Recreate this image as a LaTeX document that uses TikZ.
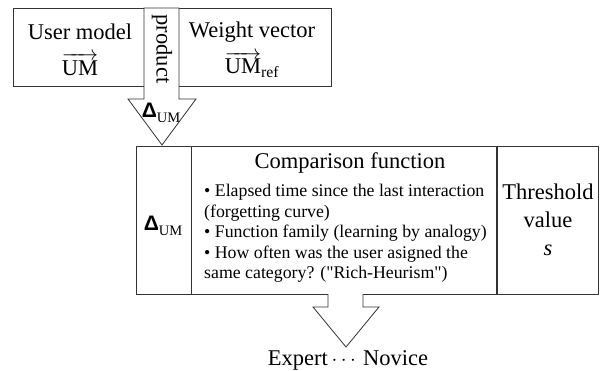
\documentclass[tikz,border=0pt]{standalone}
\usepackage{amsmath}
\usepackage{fontspec}
\setmainfont{Liberation Serif}
\newfontfamily\deltafont{Liberation Sans}

\newcommand{\dum}{{\deltafont\bfseries\fontsize{21}{22}\selectfont Δ}\raisebox{-5pt}{\fontsize{14.5}{16}\selectfont UM}}
\newcommand{\vecum}{$\overrightarrow{\text{UM}}$}

\tikzset{
  big/.style={font=\fontsize{22.5}{30}\selectfont, inner sep=0pt},
  small/.style={font=\fontsize{17.8}{20.5}\selectfont, inner sep=0pt},
  cell/.style={draw=black!80, line width=0.8pt, inner sep=0pt},
  blockarrow/.style={draw=black!80, line width=0.8pt, fill=white, line join=miter},
}

\begin{document}
\begin{tikzpicture}[x=1pt, y=-1pt]
  \useasboundingbox (0,0) rectangle (601,371);
  % input vectors
  \node[cell, minimum width=318pt, minimum height=78pt] (input) at (172,47) {};
  \node[big, align=center] (user) at (80,50) {User model\\[6pt] \vecum};
  \node[big, align=center] (weight) at (252,50) {Weight vector\\[6pt] \vecum$_{\text{ref}}$};
  % product arrow
  \filldraw[blockarrow] (144,8) -- (144,99) -- (128,99) -- (162,145)
    -- (196,99) -- (179,99) -- (179,8) -- cycle;
  \node[big, rotate=-90] (prod) at (162,49) {product};
  \node (dtop) at (161,113) {\dum};
  % comparison block
  \node[cell, minimum width=55pt, minimum height=148pt] (dcell) at (163.5,220) {};
  \node (dmid) at (163,226) {\dum};
  \node[cell, minimum width=305pt, minimum height=148pt, anchor=west] (cmp) at (dcell.east) {};
  \node[cell, minimum width=101pt, minimum height=148pt, anchor=west] (thr) at (cmp.east) {};
  \node[big] (cmptitle) at (350,163) {Comparison function};
  \node[small, align=left, anchor=north west] (crit) at (204,184) {%
    \textbullet{} Elapsed time since the last interaction\\
    (forgetting curve)\\
    \textbullet{} Function family (learning by analogy)\\
    \textbullet{} How often was the user asigned the\\
    same category? (\textquotedbl Rich-Heurism\textquotedbl)};
  \node[big, align=center, font=\fontsize{22.5}{28}\selectfont] (thrtext) at (thr.center)
    {Threshold\\value\\\textit{s}};
  % result arrow
  \filldraw[blockarrow] (328,294) -- (328,307) -- (313,307) -- (346,347)
    -- (379,307) -- (363,307) -- (363,294);
  \node[big] (result) at (348,360) {Expert\,$\cdots$\,Novice};
\end{tikzpicture}
\end{document}
